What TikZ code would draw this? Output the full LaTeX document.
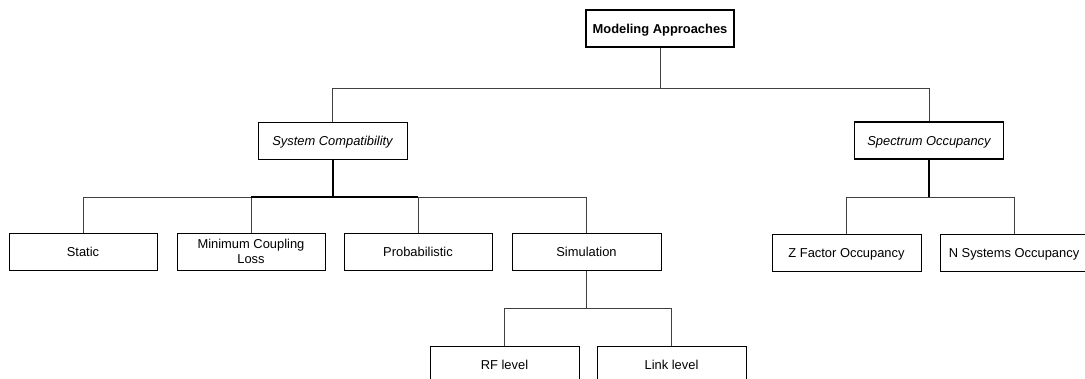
\documentclass[tikz,border=0pt]{standalone}
\usepackage{fontspec}
\setmainfont{Liberation Sans}
\begin{document}
\begin{tikzpicture}[x=1pt,y=-1pt,
  box/.style={draw=black,line width=0.9pt,minimum width=149pt,minimum height=37pt,inner sep=0pt,align=center,
    font=\fontsize{12.9}{15}\selectfont},
  one/.style={text height=9.2pt,text depth=0pt},
  conn/.style={draw=black!75,line width=0.9pt},
  thick conn/.style={draw=black,line width=2pt}]
\useasboundingbox (0,0) rectangle (1085,378);
\clip (0,0) rectangle (1085,378);
\node[box,one,line width=2pt,minimum width=148pt,minimum height=37pt,font=\fontsize{12.9}{15}\selectfont\bfseries] (top) at (660,28.5) {Modeling Approaches};
\node[box,one,font=\fontsize{12.9}{15}\selectfont\itshape] (sc) at (332.5,140.5) {System Compatibility};
\node[box,one,line width=1.5pt,font=\fontsize{12.9}{15}\selectfont\itshape] (so) at (929,140.5) {Spectrum Occupancy};
\node[box,one,minimum width=148pt] (st) at (83,251.5) {Static};
\node[box,minimum width=148pt] (mcl) at (251,251.5) {Minimum Coupling\\Loss};
\node[box,one,minimum width=148pt] (pr) at (418,251.5) {Probabilistic};
\node[box,one] (sim) at (586.5,252) {Simulation};
\node[box,one] (rf) at (504.5,364.5) {RF level};
\node[box,one] (ll) at (671.5,364.5) {Link level};
\node[box,one] (zf) at (846.5,252.5) {Z Factor Occupancy};
\node[box,one,minimum width=148pt] (ns) at (1014,252.5) {N Systems Occupancy};
% connectors
\draw[conn] (top.south) -- ++(0,40) -| (sc.north);
\draw[conn] (top.south) -- ++(0,40) -| (so.north);
\draw[thick conn] (sc.south) -- ++(0,38) coordinate (scb);
\draw[conn] (scb) -| (st.north);
\draw[conn] (scb) -| (mcl.north);
\draw[conn] (scb) -| (pr.north);
\draw[conn] (scb) -| (sim.north);
\draw[thick conn] (mcl.north |- scb) -- (pr.north |- scb);
\draw[thick conn] (sc.south) -- (scb);
\draw[thick conn] (so.south) -- ++(0,38) coordinate (sob);
\draw[conn] (sob) -| (zf.north);
\draw[conn] (sob) -| (ns.north);
\draw[conn] (sim.south) -- ++(0,37) coordinate (simb);
\draw[conn] (simb) -| (rf.north);
\draw[conn] (simb) -| (ll.north);
\end{tikzpicture}
\end{document}
